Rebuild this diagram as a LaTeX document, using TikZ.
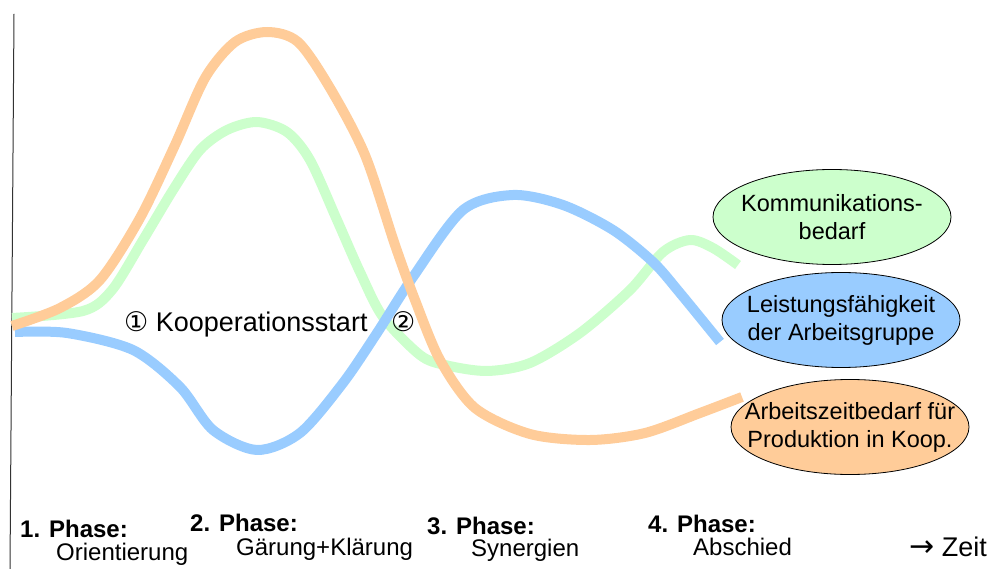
\documentclass[tikz,border=0pt]{standalone}
\usepackage{fontspec}
\setmainfont{Liberation Sans}
\newfontfamily\circfont{DejaVu Sans}
\usepackage{tikz}
\usetikzlibrary{shapes.geometric, arrows}
\definecolor{kommgreen}{HTML}{CCFFCC}
\definecolor{leistblue}{HTML}{99CCFF}
\definecolor{arbeitorange}{HTML}{FFCC99}

\begin{document}
\begin{tikzpicture}[x=1pt, y=-1pt]
    \tikzstyle{curve} = [line width=10pt, line join=round]
\tikzstyle{bubble} = [ellipse, draw=black, line width=0.8pt, minimum width=238pt, minimum height=95pt]
\tikzstyle{btext} = [align=center, inner sep=0pt, font=\fontsize{23.5}{28}\selectfont]
\tikzstyle{phase} = [anchor=base west, inner sep=0pt, font=\fontsize{24}{28}\selectfont\bfseries]
\tikzstyle{phasename} = [anchor=base west, inner sep=0pt, font=\fontsize{24}{28}\selectfont]
    \useasboundingbox (0,0) rectangle (991,569);

% time axis
\coordinate (axtop) at (14,14);
\coordinate (axbot) at (10,569);
\draw[line width=1pt, black!80] (axtop) -- (axbot);

% curves
\draw[curve, kommgreen] plot[smooth] coordinates {(12,318) (83,311) (112,290) (143,240) (173,190) (200,150) (227,130) (257,122) (287,132) (310,160) (337,220) (360,272) (383,317) (420,355) (445,365) (487,371) (530,363) (580,333) (630,290) (663,252) (690,240) (713,248) (738,265)};
\draw[curve, leistblue] plot[smooth] coordinates {(15,332) (67,333) (133,350) (180,387) (213,430) (257,450) (300,433) (343,383) (377,333) (413,277) (463,210) (513,195) (563,205) (613,230) (653,262) (680,293) (720,342)};
\draw[curve, arbeitorange] plot[smooth] coordinates {(12,326) (60,308) (100,280) (140,218) (175,145) (205,78) (235,42) (267,32) (298,42) (330,88) (365,155) (395,245) (415,300) (440,360) (475,408) (530,434) (590,440) (645,433) (700,413) (742,397)};

% legend
\node (komm) [bubble, fill=kommgreen] at (832,217) {};
\node (kommtxt) [btext] at (komm.center) {Kommunikations-\\bedarf};
\node (leist) [bubble, fill=leistblue] at (841,320) {};
\node (leisttxt) [btext] at (leist.center) {Leistungsfähigkeit\\der Arbeitsgruppe};
\node (arbeit) [bubble, fill=arbeitorange] at (850,427) {};
\node (arbeittxt) [btext] at (arbeit.center) {Arbeitszeitbedarf für\\Produktion in Koop.};

% markers
\node (start) [phasename, font=\fontsize{27}{30}\selectfont] at (124,332) {{\circfont ①} Kooperationsstart};
\node (zwei) [phasename, font=\fontsize{27}{30}\selectfont] at (391,332) {\circfont ②};

% phases
\node (ph1) [phase] at (20,537) {1. Phase:};
\node (ph1n) [phasename] at (56,560) {Orientierung};
\node (ph2) [phase] at (190,531) {2. Phase:};
\node (ph2n) [phasename] at (236,555) {Gärung+Klärung};
\node (ph3) [phase] at (427,534) {3. Phase:};
\node (ph3n) [phasename] at (471,556) {Synergien};
\node (ph4) [phase] at (648,532) {4. Phase:};
\node (ph4n) [phasename] at (693,555) {Abschied};
\node (zeit) [phasename, font=\fontsize{27}{30}\selectfont] at (909,556) {{\circfont\fontsize{30}{30}\selectfont →} Zeit};
  \end{tikzpicture}
\end{document}
